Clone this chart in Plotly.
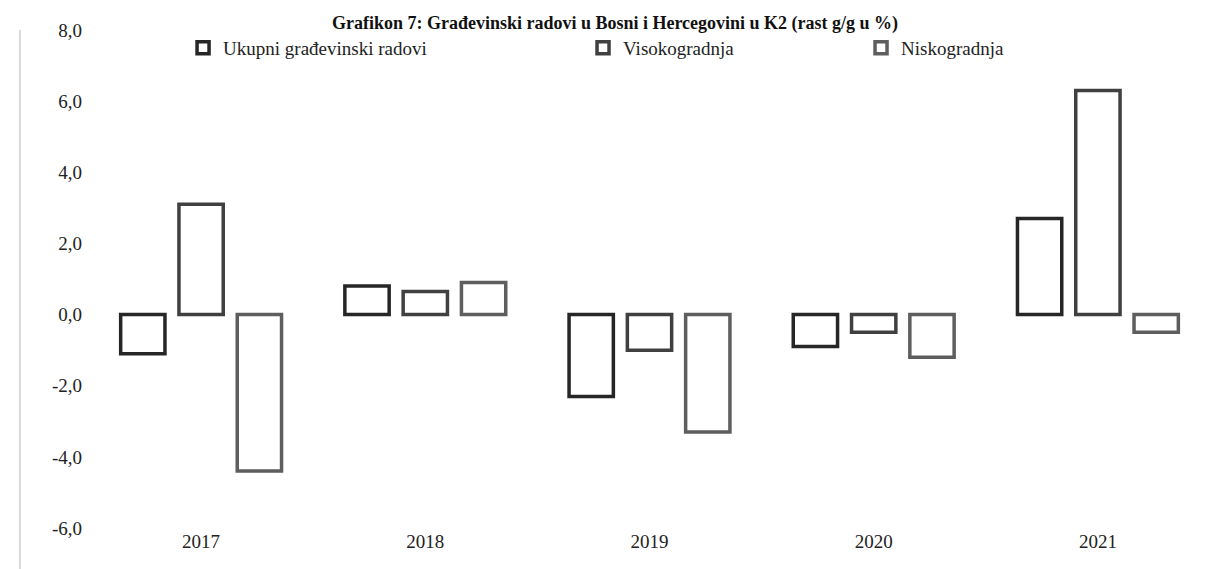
import plotly.graph_objects as go

years = ["2017", "2018", "2019", "2020", "2021"]
ukupni = [-1.1, 0.8, -2.3, -0.9, 2.7]
visoko = [3.1, 0.65, -1.0, -0.5, 6.3]
nisko = [-4.4, 0.9, -3.3, -1.2, -0.5]
y_tickvals = [-6, -4, -2, 0, 2, 4, 6, 8]
y_ticktext = ["-6,0", "-4,0", "-2,0", "0,0", "2,0", "4,0", "6,0", "8,0"]

series = [
    ("Ukupni građevinski radovi", ukupni, "#262626", "legend"),
    ("Visokogradnja", visoko, "#404040", "legend2"),
    ("Niskogradnja", nisko, "#5e5e5e", "legend3"),
]

fig = go.Figure()
for name, vals, col, lg in series:
    fig.add_trace(go.Bar(
        x=years, y=vals, name=name, legend=lg, showlegend=True,
        marker=dict(color="rgba(255,255,255,0)", line=dict(color=col, width=3.5)),
    ))

font = dict(family="Liberation Serif, DejaVu Serif, serif", size=19, color="#222")
leg_common = dict(orientation="h", yanchor="middle", xanchor="left",
                  bgcolor="rgba(0,0,0,0)", font=font, itemwidth=30)

H = 569 - 22 - 49
ly = 1.0 - 18 / H

fig.update_layout(
    width=1214, height=569,
    paper_bgcolor="white", plot_bgcolor="white",
    margin=dict(l=81, r=12, t=22, b=49),
    barmode="group", bargap=0.22, bargroupgap=0.24,
    font=font,
    title=dict(text="<b>Grafikon 7: Građevinski radovi u Bosni i Hercegovini u K2 (rast g/g u %)</b>",
               x=0.5, xanchor="center", y=0.985, yanchor="top", pad=dict(t=0, b=0),
               font=dict(family="Liberation Serif, serif", size=18, color="#111")),
    xaxis=dict(showgrid=False, showline=False, zeroline=False, ticks="",
               tickfont=font),
    yaxis=dict(range=[-6, 8], tickvals=y_tickvals, ticktext=y_ticktext,
               showgrid=False, showline=False, zeroline=False, ticks="",
               tickfont=font, ticklabelstandoff=6),
    legend=dict(x=0.0839, y=ly, **leg_common),
    legend2=dict(x=0.4407, y=ly, **leg_common),
    legend3=dict(x=0.6887, y=ly, **leg_common),
    shapes=[dict(type="line", xref="paper", yref="paper",
                 x0=-0.0616, x1=-0.0616, y0=-0.2, y1=1.0,
                 line=dict(color="#cfcfcf", width=1.5), layer="below")],
)

fig.write_html("out.html")
